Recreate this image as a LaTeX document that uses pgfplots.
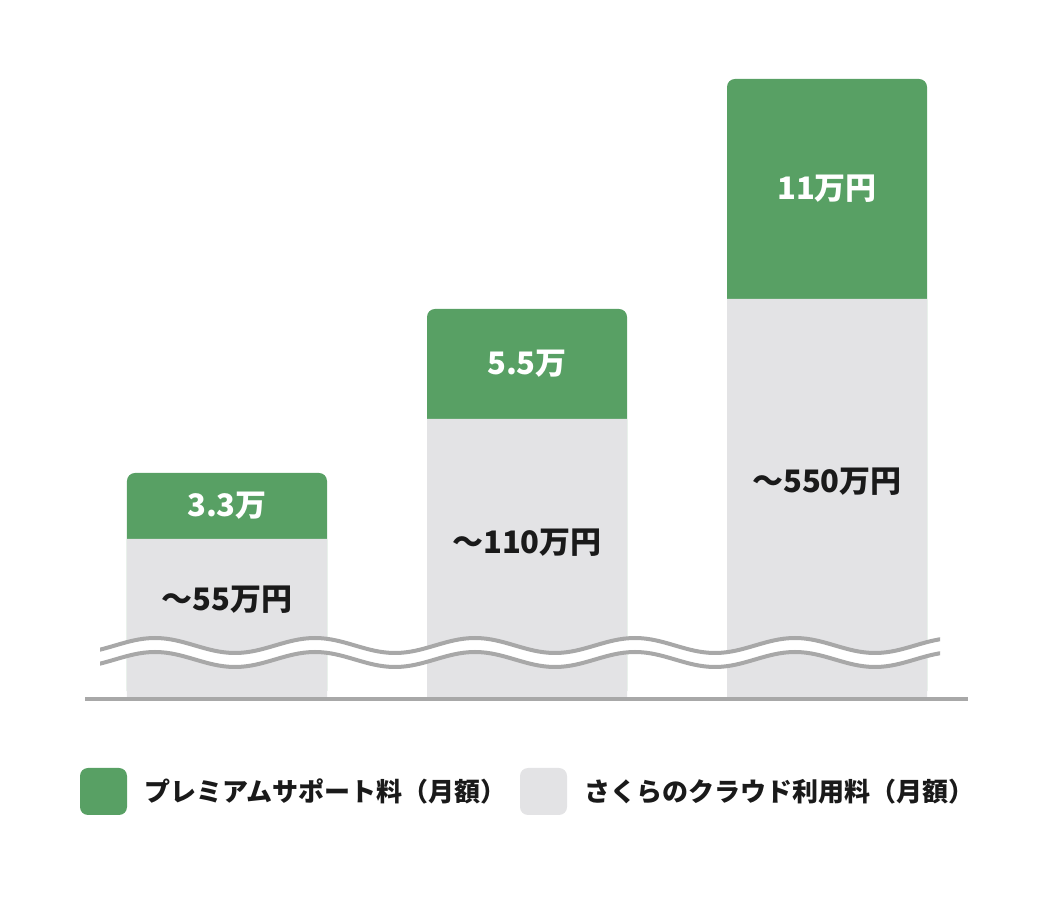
\documentclass[border=0pt]{standalone}
\usepackage{fontspec}
\setmainfont{Noto Sans CJK JP}
\usepackage{pgfplots}
\usepackage{pgfplotstable}
\pgfplotsset{compat=1.18}

\definecolor{premgreen}{RGB}{88,160,100}
\definecolor{cloudgray}{RGB}{227,227,229}
\definecolor{linegray}{RGB}{168,168,168}
\definecolor{txt}{RGB}{26,26,26}

% bar heights as drawn (the axis is broken, so base heights are schematic)
\pgfplotstableread{
idx base prem
0   8    3.3
1   14   5.5
2   20   11
}\costs

\newcommand{\wave}[1]{(75,#1-7.5) \foreach \k in {0,...,5} {cos ++(40,7.5) sin ++(40,7.5) cos ++(40,-7.5) sin ++(40,-7.5)}}

\begin{document}
\begin{tikzpicture}
\begin{axis}[
    at={(85bp,201bp)}, anchor=south west,
    scale only axis, width=883bp, height=640bp,
    xmin=-0.4733, xmax=2.47, ymin=0, ymax=32,
    hide axis, clip=false,
    bar width=200bp,
]
\addplot[ybar, bar shift=0pt, fill=premgreen, draw=none, rounded corners=8bp]
    table[x=idx, y expr=\thisrow{base}+\thisrow{prem}] {\costs};
\addplot[ybar, bar shift=0pt, fill=cloudgray, draw=none]
    table[x=idx, y=base] {\costs};

\begin{scope}[every node/.style={font=\fontsize{31bp}{36bp}\selectfont\bfseries, inner sep=0pt}]
\node[white] at (axis cs:0,9.65) {3.3万};
\node[white] at (axis cs:1,16.75) {5.5万};
\node[white] at (axis cs:2,25.5) {11万円};
\node[txt] at (axis cs:0,4.95) {〜55万円};
\node[txt] at (axis cs:1,7.8) {〜110万円};
\node[txt] at (axis cs:2,10.85) {〜550万円};
\end{scope}
\end{axis}

\begin{scope}[x=1bp,y=1bp]
% broken-axis wave
\begin{scope}
\clip (100,0) rectangle (940,900);
\draw[white, line width=14bp] \wave{247.5};
\draw[linegray, line width=4bp] \wave{254.5};
\draw[linegray, line width=4bp] \wave{240.5};
\end{scope}

\draw[linegray, line width=3.5bp] (85,201) -- (968,201);

% legend
\fill[premgreen, rounded corners=8bp] (80,85) rectangle (127,132);
\node[anchor=west, inner sep=0pt, txt, font=\fontsize{26bp}{30bp}\selectfont\bfseries] at (144,108.5) {プレミアムサポート料（月額）};
\fill[cloudgray, rounded corners=8bp] (520,85) rectangle (567,132);
\node[anchor=west, inner sep=0pt, txt, font=\fontsize{26bp}{30bp}\selectfont\bfseries] at (584,108.5) {さくらのクラウド利用料（月額）};

\pgfresetboundingbox
\path[use as bounding box] (0,0) rectangle (1054,900);
\end{scope}
\end{tikzpicture}
\end{document}
